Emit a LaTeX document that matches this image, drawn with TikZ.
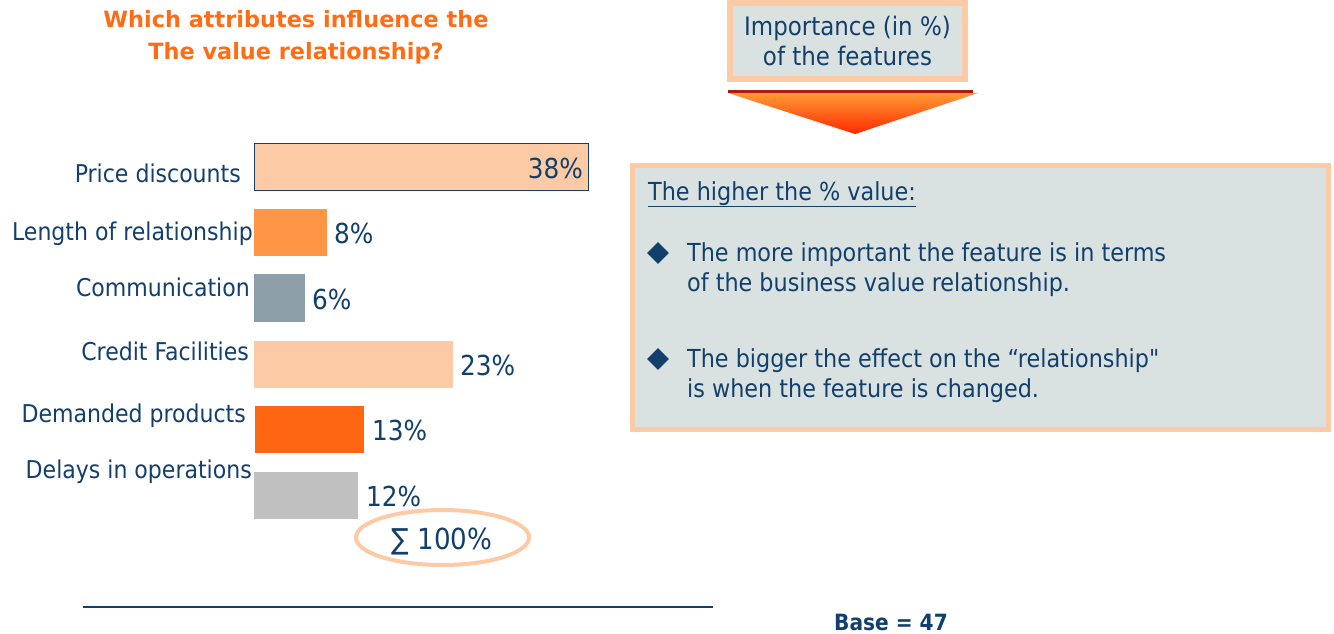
\documentclass[tikz,border=0pt]{standalone}
\usepackage{fontspec}
\setmainfont{DejaVu Sans Condensed}[Ligatures=TeXOff]
\newfontfamily\titlefont{DejaVu Sans}
\usepackage{tikz}
\usetikzlibrary{shapes.geometric}
\definecolor{navy}{HTML}{123F6B}
\definecolor{peach}{HTML}{FCCBA5}
\definecolor{orangebar}{HTML}{FF9545}
\definecolor{bluegray}{HTML}{8DA0AA}
\definecolor{deeporange}{HTML}{FF6611}
\definecolor{lightgray}{HTML}{C0C0C0}
\definecolor{panel}{HTML}{DAE2E1}
\definecolor{titleorange}{HTML}{FF6C16}
\definecolor{darkred}{HTML}{B01810}
\definecolor{arrowtop}{HTML}{FF9933}
\definecolor{arrowtip}{HTML}{FF2A00}

\begin{document}
\begin{tikzpicture}[x=1pt,y=-1pt,
  lbl/.style={text=navy,inner sep=0pt,font=\fontsize{24.5}{28}\selectfont},
  note/.style={text=navy,inner sep=0pt,font=\fontsize{24.8}{30}\selectfont},
  pct/.style={text=navy,inner sep=0pt,font=\fontsize{27.5}{30}\selectfont},
  bar/.style={inner sep=0pt,anchor=north west,draw=none},
  bullet/.style={fill=navy,diamond,inner sep=0pt,minimum width=22,minimum height=22}]
\useasboundingbox (0,0) rectangle (1334,634);
\node[text=titleorange,align=center,inner sep=0pt,font=\titlefont\bfseries\fontsize{22.4}{32}\selectfont] (title) at (296,37) {Which attributes influence the\\The value relationship?};
\node[draw=peach,line width=6pt,fill=panel,minimum width=235,minimum height=76,text=navy,align=center,font=\fontsize{25.5}{30}\selectfont] (imp) at (847.5,41) {Importance (in \%)\\of the features};
\shade[top color=arrowtop,bottom color=arrowtip] (728,93) -- (978,93) -- (855,134) -- cycle;
\draw[darkred,line width=3pt] (728,92) -- (973,92);
\node[bar,fill=peach,draw=navy,line width=1.2pt,minimum width=334,minimum height=47] (price) at (254,143) {};
\node[pct,anchor=base east] (p38) at (583,178) {38\%};
\node[lbl,anchor=base east] (lprice) at (241,182) {Price discounts};
\node[bar,fill=orangebar,minimum width=73,minimum height=47] (length) at (254,209) {};
\node[pct,anchor=base west] (p8) at (334,243) {8\%};
\node[lbl,anchor=base east] (llength) at (253,240) {Length of relationship};
\node[bar,fill=bluegray,minimum width=51,minimum height=48] (comm) at (254,274) {};
\node[pct,anchor=base west] (p6) at (312,309) {6\%};
\node[lbl,anchor=base east] (lcomm) at (250,296) {Communication};
\node[bar,fill=peach,minimum width=199,minimum height=47] (credit) at (254,341) {};
\node[pct,anchor=base west] (p23) at (460,375) {23\%};
\node[lbl,anchor=base east] (lcredit) at (249,360) {Credit Facilities};
\node[bar,fill=deeporange,minimum width=109,minimum height=47] (demand) at (255,406) {};
\node[pct,anchor=base west] (p13) at (372,440) {13\%};
\node[lbl,anchor=base east] (ldemand) at (246,422) {Demanded products};
\node[bar,fill=lightgray,minimum width=104,minimum height=47] (delay) at (254,472) {};
\node[pct,anchor=base west] (p12) at (366,506) {12\%};
\node[lbl,anchor=base east] (ldelay) at (252,478) {Delays in operations};
\node[draw=peach,line width=4pt,ellipse,minimum width=173,minimum height=55,inner sep=0pt] (sum) at (442.5,537.5) {};
\node[text=navy,inner sep=0pt,font=\fontsize{29}{32}\selectfont] (sumtext) at (442,542) {∑ 100\%};
\node[draw=peach,line width=5pt,fill=panel,minimum width=696,minimum height=264] (notebox) at (980.5,297.5) {};
\node[note,anchor=base west] (head) at (648,200) {\underline{The higher the \% value:}};
\node[bullet] (b1) at (658,253) {};
\node[note,anchor=base west] (t1a) at (687,261) {The more important the feature is in terms};
\node[note,anchor=base west] (t1b) at (687,291) {of the business value relationship.};
\node[bullet] (b2) at (658,359) {};
\node[note,anchor=base west] (t2a) at (687,367) {The bigger the effect on the “relationship"};
\node[note,anchor=base west] (t2b) at (687,397) {is when the feature is changed.};
\coordinate (rulea) at (83,607);
\coordinate (ruleb) at (713,607);
\draw[navy,line width=2.5pt] (rulea) -- (ruleb);
\node[text=navy,inner sep=0pt,font=\bfseries\fontsize{22.4}{26}\selectfont] (base) at (891,622) {Base = 47};
\end{tikzpicture}
\end{document}
